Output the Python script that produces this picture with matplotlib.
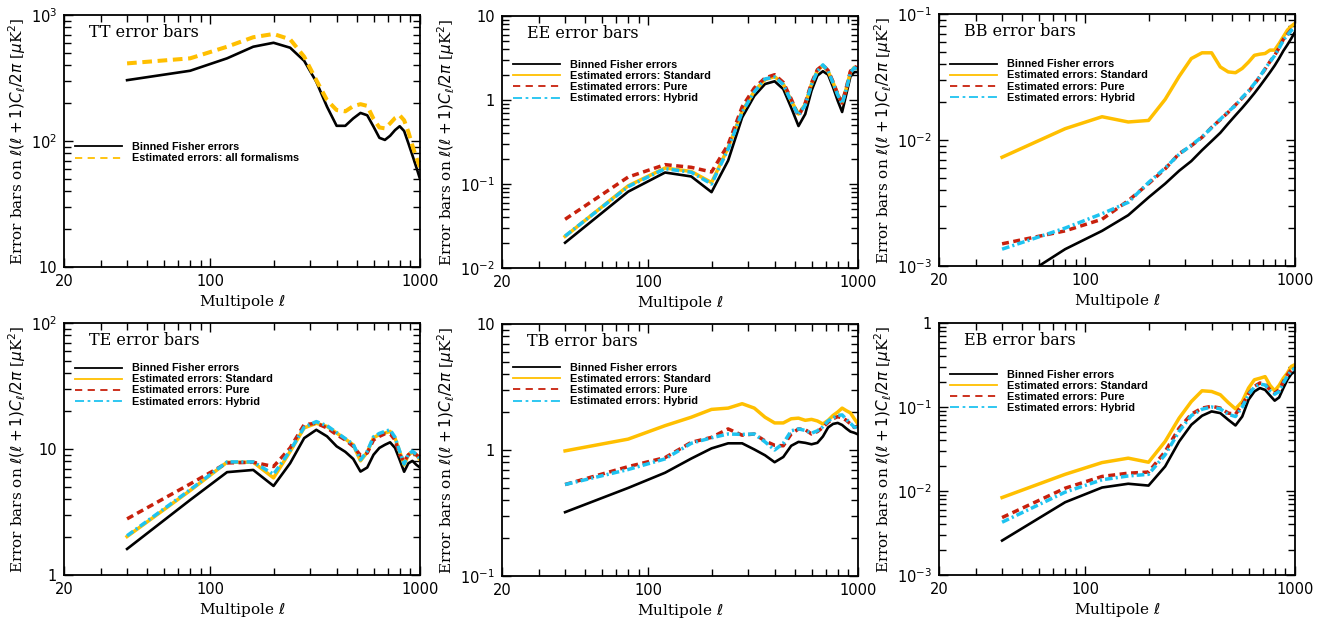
import matplotlib
matplotlib.use('Agg')
import matplotlib.pyplot as plt
from matplotlib.lines import Line2D
from matplotlib.ticker import FixedLocator, LogLocator, NullFormatter, FuncFormatter
import numpy as np

# bin centres in multipole
ell = [40, 80, 120, 160, 200, 240, 280, 320, 360, 400, 440, 480, 520,
       560, 600, 640, 680, 720, 760, 800, 840, 880, 920, 960, 1000]

tt_fisher = [304, 361, 453, 560, 602, 550, 433, 295, 187, 132, 132, 151, 167,
             160, 130, 106, 102, 110, 122, 131, 120, 96, 77, 62, 50]
tt_estimated = [413, 453, 560, 666, 707, 641, 467, 304, 211, 176, 172, 189, 196,
                190, 150, 128, 126, 138, 152, 160, 146, 118, 92, 74, 62]

ee_fisher = [0.020, 0.081, 0.137, 0.123, 0.080, 0.19, 0.62, 1.12, 1.55, 1.67, 1.35, 0.81, 0.49,
             0.68, 1.29, 1.95, 2.2, 2.0, 1.42, 0.98, 0.72, 1.18, 1.9, 2.15, 2.15]
ee_standard = [0.0238, 0.095, 0.155, 0.141, 0.104, 0.27, 0.74, 1.27, 1.75, 1.9, 1.55, 0.98, 0.68,
               0.89, 1.55, 2.24, 2.58, 2.2, 1.62, 1.17, 0.93, 1.39, 2.15, 2.45, 2.35]
ee_pure = [0.038, 0.121, 0.17, 0.158, 0.139, 0.295, 0.83, 1.39, 1.83, 2.0, 1.62, 1.03, 0.64,
           0.92, 1.6, 2.3, 2.6, 2.25, 1.65, 1.18, 0.92, 1.42, 2.2, 2.5, 2.4]
ee_hybrid = [0.024, 0.093, 0.152, 0.138, 0.100, 0.26, 0.72, 1.25, 1.78, 1.88, 1.53, 0.96, 0.66,
             0.87, 1.52, 2.2, 2.62, 2.22, 1.6, 1.15, 0.90, 1.36, 2.12, 2.42, 2.3]

bb_fisher = [0.00065, 0.00136, 0.0019, 0.00253, 0.0035, 0.0045, 0.0057, 0.0068, 0.0083, 0.0098,
             0.0114, 0.0135, 0.0157, 0.018, 0.0206, 0.0235, 0.0268, 0.0305, 0.0345, 0.039,
             0.0445, 0.051, 0.057, 0.064, 0.072]
bb_standard = [0.0073, 0.0123, 0.0153, 0.0139, 0.0143, 0.021, 0.032, 0.0443, 0.0492, 0.0492,
               0.038, 0.0347, 0.0342, 0.037, 0.0415, 0.047, 0.048, 0.0486, 0.0517, 0.0517,
               0.0583, 0.066, 0.0745, 0.080, 0.0843]
bb_pure = [0.0015, 0.0019, 0.00235, 0.0033, 0.0045, 0.0059, 0.0078, 0.0090, 0.0105, 0.0126,
           0.0145, 0.0166, 0.019, 0.0215, 0.0242, 0.0278, 0.0318, 0.0365, 0.042, 0.047,
           0.054, 0.063, 0.069, 0.075, 0.079]
bb_hybrid = [0.00136, 0.002, 0.0026, 0.0032, 0.0046, 0.0060, 0.0077, 0.0091, 0.0106, 0.0125,
             0.0146, 0.0168, 0.0188, 0.0218, 0.0245, 0.028, 0.032, 0.0368, 0.0418, 0.0468,
             0.0535, 0.062, 0.068, 0.074, 0.078]

te_fisher = [1.61, 3.94, 6.55, 6.82, 5.09, 7.71, 12.2, 14.2, 12.6, 10.5, 9.5, 8.35, 6.62,
             7.13, 9.0, 10.2, 10.8, 11.3, 10.2, 8.2, 6.6, 7.7, 8.05, 7.5, 7.13]
te_standard = [2.02, 4.68, 7.85, 7.85, 5.9, 9.55, 14.7, 16.0, 15.1, 13.4, 12.0, 10.8, 8.05,
               9.43, 12.3, 13.0, 13.4, 13.8, 12.2, 9.55, 7.48, 9.0, 9.43, 9.0, 8.2]
te_pure = [2.79, 5.28, 7.75, 7.85, 7.26, 10.2, 15.6, 16.0, 14.7, 13.0, 11.8, 10.5, 8.9,
           9.3, 11.8, 12.6, 13.2, 13.2, 11.8, 9.0, 7.95, 9.0, 9.5, 9.0, 8.5]
te_hybrid = [2.05, 4.75, 7.9, 7.9, 6.3, 9.7, 14.9, 16.5, 15.3, 13.5, 12.1, 10.9, 8.2,
             9.6, 12.5, 13.3, 13.8, 14.2, 12.4, 9.6, 7.6, 9.1, 9.6, 9.1, 8.3]

tb_fisher = [0.321, 0.50, 0.66, 0.855, 1.03, 1.13, 1.13, 1.01, 0.908, 0.80, 0.88, 1.08, 1.16,
             1.14, 1.11, 1.14, 1.28, 1.51, 1.61, 1.64, 1.58, 1.48, 1.40, 1.37, 1.33]
tb_standard = [0.984, 1.22, 1.56, 1.82, 2.10, 2.15, 2.33, 2.15, 1.82, 1.64, 1.64, 1.77, 1.79,
               1.72, 1.75, 1.70, 1.61, 1.72, 1.88, 2.0, 2.15, 2.05, 1.97, 1.77, 1.61]
tb_pure = [0.532, 0.738, 0.87, 1.15, 1.26, 1.47, 1.31, 1.34, 1.18, 1.09, 1.08, 1.34, 1.47,
           1.45, 1.34, 1.40, 1.51, 1.66, 1.77, 1.84, 1.80, 1.72, 1.61, 1.51, 1.55]
tb_hybrid = [0.532, 0.70, 0.85, 1.13, 1.25, 1.34, 1.33, 1.34, 1.16, 1.0, 1.13, 1.42, 1.47,
             1.43, 1.36, 1.42, 1.53, 1.70, 1.80, 1.88, 1.90, 1.75, 1.63, 1.52, 1.50]

eb_fisher = [0.00257, 0.00735, 0.011, 0.0122, 0.0116, 0.0196, 0.0389, 0.0614, 0.0787, 0.0886,
             0.0846, 0.0705, 0.0603, 0.077, 0.122, 0.153, 0.168, 0.16, 0.137, 0.119,
             0.13, 0.168, 0.211, 0.247, 0.265]
eb_standard = [0.00836, 0.0158, 0.0218, 0.0246, 0.022, 0.0389, 0.0738, 0.116, 0.156, 0.153,
               0.14, 0.113, 0.095, 0.116, 0.168, 0.211, 0.22, 0.23, 0.181, 0.156,
               0.181, 0.22, 0.254, 0.304, 0.32]
eb_pure = [0.00483, 0.0108, 0.0149, 0.0163, 0.0168, 0.0295, 0.0561, 0.0822, 0.097, 0.102,
           0.097, 0.0846, 0.082, 0.106, 0.143, 0.176, 0.193, 0.187, 0.16, 0.146,
           0.16, 0.2, 0.242, 0.278, 0.296]
eb_hybrid = [0.00425, 0.0097, 0.0136, 0.0151, 0.0158, 0.027, 0.0513, 0.079, 0.094, 0.1,
             0.095, 0.082, 0.077, 0.1, 0.14, 0.173, 0.187, 0.183, 0.156, 0.142,
             0.153, 0.193, 0.234, 0.27, 0.29]

YELLOW = '#ffbf00'
RED = '#c8200c'
CYAN = '#1ec3f0'

SERIF = 'DejaVu Serif'
SANS = 'DejaVu Sans'
LEG = 'Liberation Sans'

W, H = 1324, 618
fig = plt.figure(figsize=(W / 100, H / 100), dpi=100)

legend_kw = dict(loc='upper left', frameon=False, borderpad=0, borderaxespad=0,
                 handlelength=4.4, handletextpad=0.9, labelspacing=0.1,
                 prop={'family': LEG, 'weight': 'bold', 'size': 7.8})


def tick_label(v, pos):
    e = int(round(np.log10(v)))
    if e == 0:
        return '1'
    if e == 1:
        return '10'
    return r'$10^{%d}$' % e


def make_axes(left, top, ylim):
    ax = fig.add_axes([left / W, 1 - (top + 252) / H, 356 / W, 252 / H])
    ax.set_xscale('log')
    ax.set_yscale('log')
    ax.set_xlim(20, 1000)
    ax.set_ylim(*ylim)
    ax.xaxis.set_major_locator(FixedLocator([20, 100, 1000]))
    ax.xaxis.set_major_formatter(FuncFormatter(lambda v, p: '%d' % v))
    ax.xaxis.set_minor_locator(LogLocator(subs=np.arange(2, 10)))
    ax.xaxis.set_minor_formatter(NullFormatter())
    ax.yaxis.set_major_locator(LogLocator(numticks=10))
    ax.yaxis.set_major_formatter(FuncFormatter(tick_label))
    ax.yaxis.set_minor_locator(LogLocator(subs=np.arange(2, 10), numticks=10))
    ax.yaxis.set_minor_formatter(NullFormatter())
    ax.tick_params(which='both', direction='in', top=True, right=True, width=1.0,
                   labelsize=10.5, pad=5)
    ax.tick_params(which='major', length=6.5)
    ax.tick_params(which='minor', length=5)
    for lab in ax.get_xticklabels() + ax.get_yticklabels():
        lab.set_family(SANS)
    for sp in ax.spines.values():
        sp.set_linewidth(1.3)
    ax.set_xlabel(r'Multipole $\ell$', family=SERIF, fontsize=11, labelpad=3)
    ax.set_ylabel(r'Error bars on $\ell(\ell+1)C_\ell/2\pi$ [$\mu$K$^2$]',
                  family=SERIF, fontsize=11, labelpad=2)
    return ax


def four_curves(ax, fisher, standard, pure, hybrid, title, legend_top):
    ax.plot(ell, fisher, color='black', lw=1.9)
    ax.plot(ell, standard, color=YELLOW, lw=2.5)
    ax.plot(ell, pure, color=RED, lw=2.5, dashes=(2.0, 1.3))
    ax.plot(ell, hybrid, color=CYAN, lw=2.5, dashes=(2.2, 0.9, 0.6, 0.9))
    ax.text(0.07, 0.93, title, transform=ax.transAxes, family=SERIF, fontsize=11.5,
            va='center', ha='left')
    handles = [Line2D([], [], color='black', lw=1.3),
               Line2D([], [], color=YELLOW, lw=1.3),
               Line2D([], [], color=RED, lw=1.3, dashes=(4, 3)),
               Line2D([], [], color=CYAN, lw=1.3, dashes=(5, 2, 1.5, 2))]
    labels = ['Binned Fisher errors', 'Estimated errors: Standard',
              'Estimated errors: Pure', 'Estimated errors: Hybrid']
    ax.legend(handles, labels, bbox_to_anchor=(0.03, legend_top), **legend_kw)


# TT
ax = make_axes(64, 15, (10, 1000))
ax.plot(ell, tt_fisher, color='black', lw=1.9)
ax.plot(ell, tt_estimated, color=YELLOW, lw=2.9, dashes=(2.4, 1.4))
ax.text(0.07, 0.93, 'TT error bars', transform=ax.transAxes, family=SERIF, fontsize=11.5,
        va='center', ha='left')
ax.legend([Line2D([], [], color='black', lw=1.3),
           Line2D([], [], color=YELLOW, lw=1.3, dashes=(4, 3))],
          ['Binned Fisher errors', 'Estimated errors: all formalisms'],
          bbox_to_anchor=(0.03, 0.495), **legend_kw)

# EE
ax = make_axes(502, 16, (0.01, 10))
four_curves(ax, ee_fisher, ee_standard, ee_pure, ee_hybrid, 'EE error bars', 0.825)

# BB
ax = make_axes(939, 14, (0.001, 0.1))
four_curves(ax, bb_fisher, bb_standard, bb_pure, bb_hybrid, 'BB error bars', 0.82)

# TE
ax = make_axes(64, 323, (1, 100))
four_curves(ax, te_fisher, te_standard, te_pure, te_hybrid, 'TE error bars', 0.84)

# TB
ax = make_axes(502, 324, (0.1, 10))
four_curves(ax, tb_fisher, tb_standard, tb_pure, tb_hybrid, 'TB error bars', 0.845)

# EB
ax = make_axes(939, 323, (0.001, 1))
four_curves(ax, eb_fisher, eb_standard, eb_pure, eb_hybrid, 'EB error bars', 0.815)

fig.savefig('out.png', dpi=100)
